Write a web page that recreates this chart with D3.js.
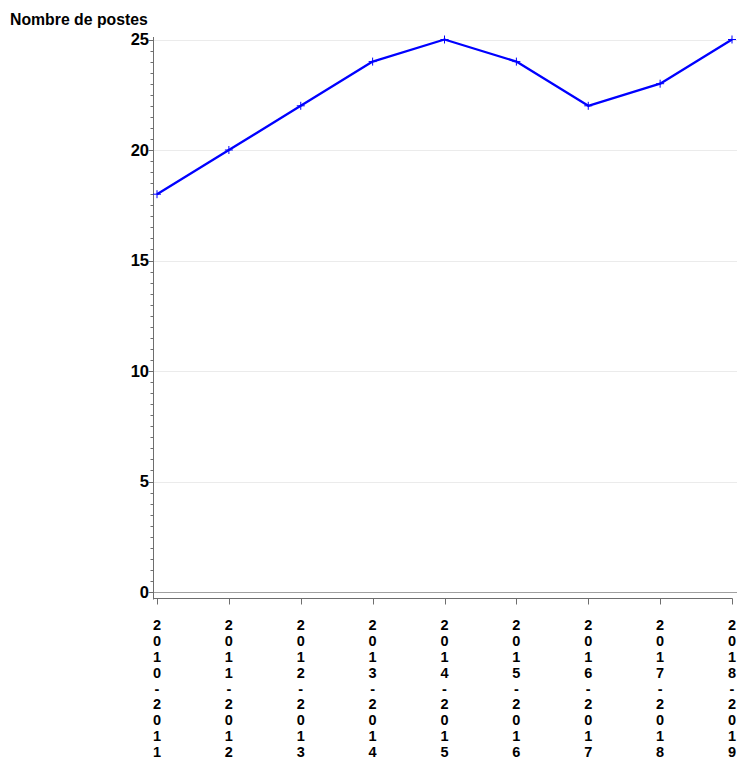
<!DOCTYPE html>
<html>
<head>
<meta charset="utf-8">
<script src="https://cdn.jsdelivr.net/npm/d3@7"></script>
<style>
html,body{margin:0;padding:0;background:#fff;}
svg text{font-family:"Liberation Sans",Arial,sans-serif;font-weight:bold;fill:#000;}
</style>
</head>
<body>
<svg id="chart" width="737" height="758"></svg>
<script>
const categories = ["2010-2011","2011-2012","2012-2013","2013-2014","2014-2015","2015-2016","2016-2017","2017-2018","2018-2019"];
const values = [18, 20, 22, 24, 25, 24, 22, 23, 25];
const yTicks = [0, 5, 10, 15, 20, 25];
const yTitle = "Nombre de postes";

const svg = d3.select("#chart");
const x = d3.scalePoint().domain(categories).range([157, 732]);
const y = d3.scaleLinear().domain([0, 25]).range([592, 39.5]);
const axisX0 = 154, axisY = 598.5;

// gridlines
svg.append("g").selectAll("line").data(yTicks.filter(d => d > 0)).join("line")
  .attr("x1", axisX0).attr("x2", 737)
  .attr("y1", d => Math.round(y(d)) + 0.5).attr("y2", d => Math.round(y(d)) + 0.5)
  .attr("stroke", "#ebebeb").attr("stroke-width", 1);
// zero reference line
svg.append("line").attr("x1", axisX0).attr("x2", 737)
  .attr("y1", Math.round(y(0)) + 0.5).attr("y2", Math.round(y(0)) + 0.5)
  .attr("stroke", "#a0a0a0").attr("stroke-width", 1);

// y axis
const minor = d3.range(0, 25.01, 0.5);
const gy = svg.append("g").attr("transform", `translate(${axisX0 - 0.5},0)`);
gy.append("line").attr("x1", 0).attr("x2", 0).attr("y1", 37).attr("y2", axisY + 1).attr("stroke", "#6e6e6e");
gy.selectAll("line.minor").data(minor).join("line").attr("class", "minor")
  .attr("x1", -3).attr("x2", 0)
  .attr("y1", d => Math.round(y(d)) + 0.5).attr("y2", d => Math.round(y(d)) + 0.5)
  .attr("stroke", "#6e6e6e");
gy.selectAll("line.major").data(yTicks).join("line").attr("class", "major")
  .attr("x1", -5).attr("x2", 0)
  .attr("y1", d => Math.round(y(d)) + 0.5).attr("y2", d => Math.round(y(d)) + 0.5)
  .attr("stroke", "#6e6e6e");
gy.selectAll("text").data(yTicks).join("text")
  .attr("x", -4.5).attr("y", d => y(d)).attr("dy", "0.36em")
  .attr("text-anchor", "end").attr("font-size", 16.5).text(d => d);

svg.append("text").attr("x", 10).attr("y", 25).attr("font-size", 15.8).text(yTitle);

// x axis
const gx = svg.append("g");
gx.append("line").attr("x1", axisX0).attr("x2", 732.5).attr("y1", axisY).attr("y2", axisY).attr("stroke", "#6e6e6e");
gx.selectAll("line.tick").data(categories).join("line").attr("class", "tick")
  .attr("x1", d => Math.round(x(d)) + 0.5).attr("x2", d => Math.round(x(d)) + 0.5)
  .attr("y1", axisY).attr("y2", axisY + 6).attr("stroke", "#6e6e6e");
const lab = gx.selectAll("text").data(categories).join("text")
  .attr("text-anchor", "middle").attr("font-size", 14.5);
lab.each(function(d) {
  const t = d3.select(this);
  d.split("").forEach((c, i) => {
    t.append("tspan").attr("x", x(d)).attr("y", 630 + i * 15.875).text(c);
  });
});

// line
const line = d3.line().x((d, i) => x(categories[i])).y(d => y(d));
svg.append("path").datum(values).attr("d", line)
  .attr("fill", "none").attr("stroke", "#0000ff").attr("stroke-width", 2.3).attr("stroke-linejoin", "round");
// plus markers
svg.append("g").selectAll("path").data(values).join("path")
  .attr("d", (d, i) => {
    const cx = x(categories[i]), cy = y(d), s = 4;
    return `M${cx - s},${cy}H${cx + s}M${cx},${cy - s}V${cy + s}`;
  })
  .attr("stroke", "#0000ff").attr("stroke-width", 1).attr("fill", "none");
</script>
</body>
</html>
